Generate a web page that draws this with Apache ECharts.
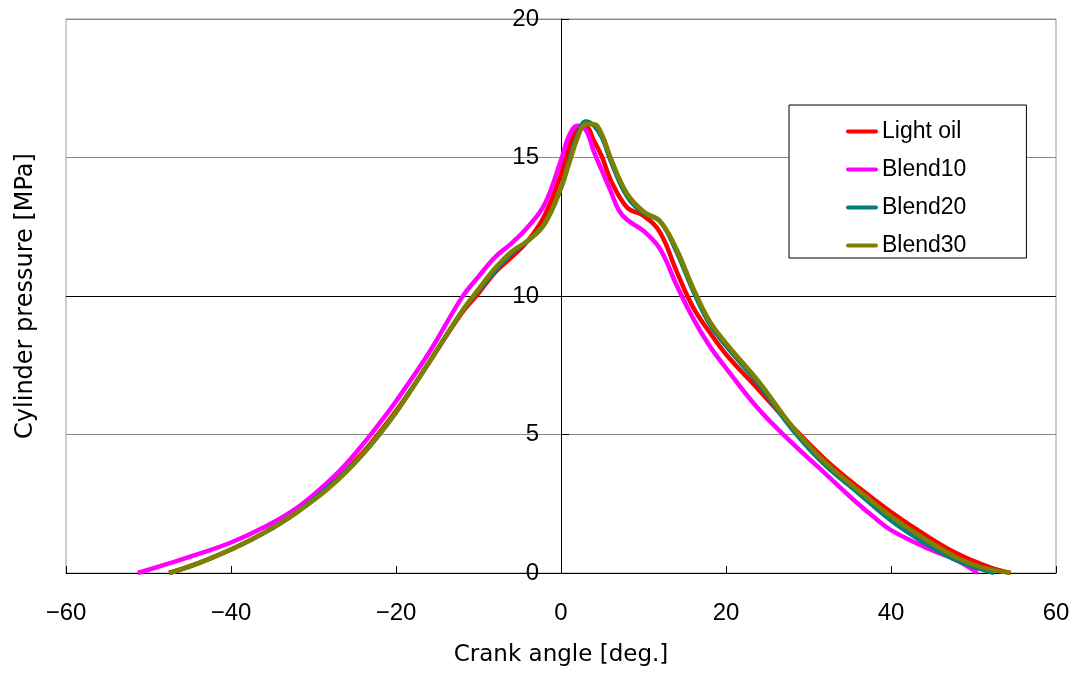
<!DOCTYPE html>
<html>
<head>
<meta charset="utf-8">
<script src="https://cdn.jsdelivr.net/npm/echarts@6/dist/echarts.min.js"></script>
<style>
  html, body { margin: 0; padding: 0; background: #fff; }
  #chart { width: 1079px; height: 675px; }
</style>
</head>
<body>
<div id="chart"></div>
<script>
(function () {
    'use strict';

    var seriesNames = ['Light oil', 'Blend10', 'Blend20', 'Blend30'];
    var seriesColors = ['#ff0000', '#ff00ff', '#008080', '#808000'];

    // crank angle [deg.] and cylinder pressure [MPa]
    var lightOilAngle = [-47.5, -44, -40, -36, -32, -28, -24, -20, -16, -12, -10, -8, -6, -4, -2, 0, 1, 2, 3, 4, 5, 6, 8, 10, 12, 14, 16, 18, 20, 24, 28, 32, 36, 40, 44, 48, 52, 54.5];
    var lightOilPressure = [0, 0.35, 0.85, 1.45, 2.2, 3.15, 4.35, 5.85, 7.6, 9.4, 10.1, 10.85, 11.4, 12.0, 12.9, 14.4, 15.4, 16.0, 16.1, 15.6, 15.0, 14.2, 13.2, 12.9, 12.3, 10.9, 9.6, 8.7, 7.9, 6.6, 5.3, 4.1, 3.1, 2.2, 1.4, 0.7, 0.2, 0];

    var blend10Angle = [-51.3, -48, -44, -40, -36, -32, -28, -26, -24, -22, -20, -16, -12, -10, -8, -6, -4, -2, 0, 1, 2, 3, 4, 5, 6, 7, 8, 10, 12, 14, 16, 18, 20, 24, 28, 32, 36, 38, 40, 44, 48, 50.5];
    var blend10Pressure = [0, 0.3, 0.68, 1.1, 1.65, 2.35, 3.35, 3.95, 4.65, 5.4, 6.2, 7.95, 9.95, 10.7, 11.4, 11.9, 12.5, 13.3, 14.9, 15.8, 16.15, 16.0, 15.2, 14.5, 13.8, 13.1, 12.75, 12.35, 11.7, 10.4, 9.2, 8.2, 7.4, 5.9, 4.7, 3.6, 2.5, 2.0, 1.55, 0.95, 0.45, 0];

    var blend20Angle = [-47.5, -44, -40, -36, -32, -28, -24, -20, -16, -12, -10, -8, -6, -4, -2, 0, 1, 2, 3, 4, 5, 6, 8, 10, 12, 14, 16, 18, 20, 24, 28, 32, 36, 40, 44, 48, 52.5];
    var blend20Pressure = [0, 0.35, 0.85, 1.45, 2.2, 3.15, 4.3, 5.8, 7.6, 9.45, 10.2, 10.9, 11.55, 12.0, 12.6, 13.9, 14.9, 15.8, 16.3, 16.15, 15.7, 14.9, 13.6, 13.0, 12.7, 11.6, 10.2, 9.0, 8.2, 6.8, 5.2, 3.9, 2.9, 1.9, 1.1, 0.45, 0];

    var blend30Angle = [-47.5, -44, -40, -36, -32, -28, -24, -20, -16, -12, -10, -8, -6, -4, -2, 0, 1, 2, 3, 4, 5, 6, 8, 10, 12, 14, 16, 18, 20, 24, 28, 32, 36, 40, 44, 48, 51, 54.5];
    var blend30Pressure = [0, 0.35, 0.85, 1.45, 2.2, 3.1, 4.3, 5.8, 7.6, 9.45, 10.25, 11.0, 11.6, 12.0, 12.6, 13.9, 14.8, 15.7, 16.2, 16.2, 15.8, 15.0, 13.7, 13.05, 12.7, 11.7, 10.3, 9.1, 8.3, 6.9, 5.3, 4.0, 3.0, 2.05, 1.25, 0.55, 0.2, 0];

    var angles = [lightOilAngle, blend10Angle, blend20Angle, blend30Angle];
    var pressures = [lightOilPressure, blend10Pressure, blend20Pressure, blend30Pressure];

    var font = 'Liberation Sans, Arial, sans-serif';
    var nameFont = 'DejaVu Sans, sans-serif';
    var lineIcon = 'path://M2,0 L30,0 A2,2 0 0 1 30,4 L2,4 A2,2 0 0 1 2,0 Z';

    var series = [];
    var legendData = [];
    for (var i = 0; i < seriesNames.length; i++) {
        var pts = [];
        for (var j = 0; j < angles[i].length; j++) {
            pts.push([angles[i][j], pressures[i][j]]);
        }
        series.push({
            name: seriesNames[i],
            type: 'line',
            data: pts,
            smooth: 0.4,
            showSymbol: false,
            symbol: 'none',
            color: seriesColors[i],
            lineStyle: { width: 4.5, color: seriesColors[i] }
        });
        legendData.push({ name: seriesNames[i], icon: lineIcon });
    }

    var myChart = echarts.init(document.getElementById('chart'));

    myChart.setOption({
        animation: false,
        backgroundColor: '#fff',
        grid: {
            left: 66,
            right: 23,
            top: 19,
            bottom: 102,
            containLabel: false,
            outerBoundsMode: 'none',
            show: true,
            borderColor: '#999',
            borderWidth: 1
        },
        legend: {
            orient: 'vertical',
            left: 789,
            top: 105,
            data: legendData,
            itemWidth: 32,
            itemHeight: 20,
            itemGap: 15,
            padding: [15, 60, 1, 57],
            borderColor: '#000',
            borderWidth: 1,
            backgroundColor: '#fff',
            itemStyle: { borderWidth: 0 },
            textStyle: { fontFamily: font, fontSize: 23, color: '#000', padding: [0, 0, 0, -1] }
        },
        xAxis: {
            type: 'value',
            min: -60,
            max: 60,
            interval: 20,
            name: 'Crank angle [deg.]',
            nameLocation: 'middle',
            nameGap: 71,
            nameTextStyle: { fontFamily: nameFont, fontSize: 23, color: '#000' },
            axisLine: { show: true, lineStyle: { color: '#000', width: 1 } },
            axisTick: { show: true, inside: true, length: 7, lineStyle: { color: '#000' } },
            axisLabel: {
                fontFamily: font,
                fontSize: 24,
                color: '#000',
                margin: 28,
                formatter: function (v) { return String(v).replace('-', '\u2212'); }
            },
            splitLine: { show: false }
        },
        yAxis: {
            type: 'value',
            min: 0,
            max: 20,
            interval: 5,
            offset: -495,
            name: 'Cylinder pressure [MPa]',
            nameLocation: 'middle',
            nameGap: 523,
            nameRotate: 90,
            nameTextStyle: { fontFamily: nameFont, fontSize: 24, color: '#000' },
            axisLine: { show: true, onZero: false, lineStyle: { color: '#000', width: 1 } },
            axisTick: { show: true, inside: true, length: 8, lineStyle: { color: '#000' } },
            axisLabel: { fontFamily: font, fontSize: 24, color: '#000', margin: 22 },
            splitLine: {
                show: true,
                lineStyle: { color: ['#888', '#888', '#000', '#888', '#888'], width: 1 }
            }
        },
        series: series
    });
}());
</script>
</body>
</html>
